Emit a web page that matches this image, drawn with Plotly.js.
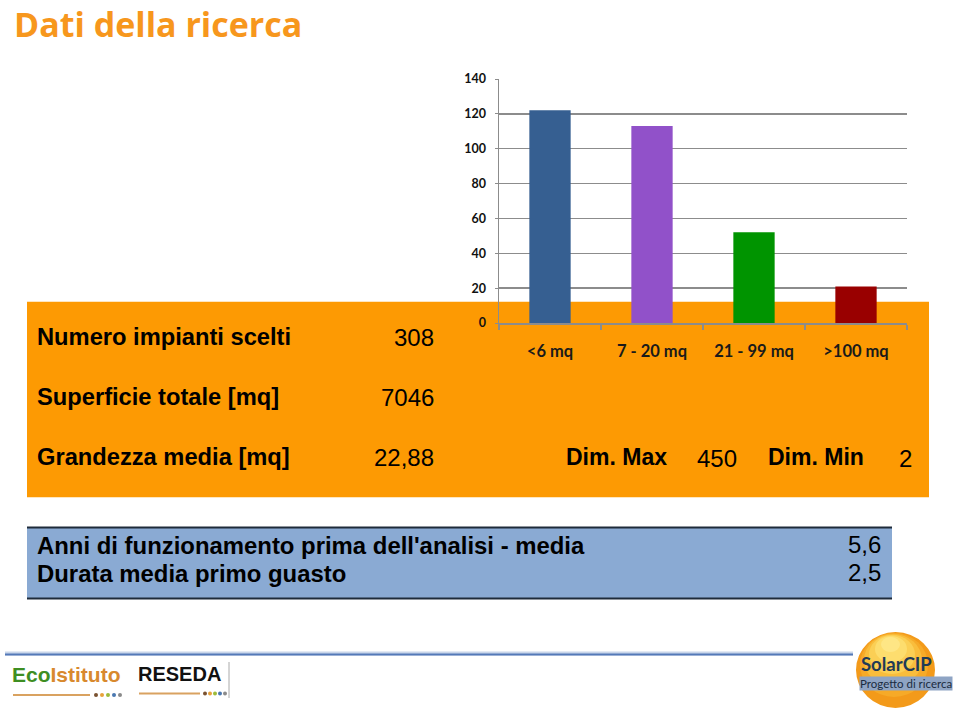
<!DOCTYPE html>
<html>
<head>
<meta charset="utf-8">
<script src="https://cdn.plot.ly/plotly-3.0.1.min.js"></script>
<style>html,body{margin:0;padding:0;background:#fff;}#chart{width:960px;height:708px;}</style>
</head>
<body>
<div id="chart"></div>
<script>
// ---- data ----
const categories = ['<6 mq', '7 - 20 mq', '21 - 99 mq', '>100 mq'];
const counts = [122, 113, 52, 21];
const yTickValues = [0, 20, 40, 60, 80, 100, 120, 140];
const summaryLabels = ['Numero impianti scelti', 'Superficie totale [mq]', 'Grandezza media [mq]'];
const summaryValues = ['308', '7046', '22,88'];
const dimLabels = ['Dim. Max', 'Dim. Min'];
const dimValues = ['450', '2'];
const durationLabels = ["Anni di funzionamento prima dell'analisi - media", 'Durata media primo guasto'];
const durationValues = ['5,6', '2,5'];
const chartTitle = 'Dati della ricerca';

// ---- styling ----
const barColors = ['#365F91', '#9151C9', '#009400', '#990000'];
const W = 960, H = 708, ML = 499, MR = 53, MT = 79, MB = 385;
const PW = W - ML - MR, PH = H - MT - MB;
const X = px => (px - ML) / PW;
const Y = py => (H - MB - py) / PH;
const ARIAL = 'Liberation Sans, Arial, sans-serif';
const CAL = 'Lato, Carlito, sans-serif';

const annotations = [];
function txt(text, x, y, anchor, size, opts) {
  opts = opts || {};
  annotations.push({
    text: text, x: X(x), y: Y(y), xref: 'paper', yref: 'paper',
    xanchor: anchor, yanchor: 'middle', showarrow: false, borderpad: 0,
    font: {family: opts.family || ARIAL, size: size, color: opts.color || '#000', weight: opts.weight || 'normal'},
    bgcolor: opts.bg || 'rgba(0,0,0,0)'
  });
}
// orange box texts
const rowY = [337, 397, 457];
summaryLabels.forEach((s, i) => txt('<b>' + s + '</b>', 36, rowY[i], 'left', 23.7));
summaryValues.forEach((s, i) => txt(s, 435, rowY[i], 'right', 24));
txt('<b>' + dimLabels[0] + '</b>', 565, 457, 'left', 23);
txt(dimValues[0], 696, 458, 'left', 24);
txt('<b>' + dimLabels[1] + '</b>', 767, 457, 'left', 23);
txt(dimValues[1], 898, 458, 'left', 24);
// blue table texts
const durY = [545, 573];
durationLabels.forEach((s, i) => txt('<b>' + s + '</b>', 36, durY[i], 'left', 23.9));
durationValues.forEach((s, i) => txt(s, 882, durY[i] - 1, 'right', 24));
// logos
txt('<span style="color:#3E8E22;font-weight:bold">Eco</span><span style="color:#D8892E;font-weight:bold">Istituto</span>', 11, 674, 'left', 21, {family: ARIAL, weight: 'bold'});
txt('RESEDA', 137, 674, 'left', 20, {color: '#111', weight: 'bold'});
txt('SolarCIP', 896, 664, 'center', 18.5, {family: CAL, color: '#1F3B57', weight: 'bold'});
txt('Progetto di ricerca', 906, 683, 'center', 11.5, {family: CAL, color: '#1A2B40', bg: '#8EA4C4'});

const shapes = [];
function rect(x0, y0, x1, y1, fill) {
  shapes.push({type: 'rect', xref: 'paper', yref: 'paper', x0: X(x0), x1: X(x1), y0: Y(y1), y1: Y(y0),
    fillcolor: fill, line: {width: 0}, layer: 'below'});
}
function line(x0, y0, x1, y1, color, w) {
  shapes.push({type: 'line', xref: 'paper', yref: 'paper', x0: X(x0), x1: X(x1), y0: Y(y0), y1: Y(y1),
    line: {color: color, width: w}, layer: 'below'});
}
function circ(x0, y0, x1, y1, fill) {
  shapes.push({type: 'circle', xref: 'paper', yref: 'paper', x0: X(x0), x1: X(x1), y0: Y(y1), y1: Y(y0),
    fillcolor: fill, line: {width: 0}, layer: 'below'});
}
rect(27, 301.7, 929, 497.3, '#FD9A03');
rect(27, 527, 892, 599, '#8AAAD3');
line(27, 527.5, 892, 527.5, '#1E2B3A', 2);
line(27, 598.5, 892, 598.5, '#1E2B3A', 2);
// footer line
line(5, 653.5, 853, 653.5, '#C9D6EA', 4);
line(5, 654.5, 853, 654.5, '#5479B8', 2);
// EcoIstituto underline & dots
line(13, 695, 90, 695, '#D9A260', 2);
['#7A5230', '#E8A23A', '#9DBB3A', '#4A78B0', '#8A8A8A'].forEach((c, i) => circ(94 + i * 6, 693, 98 + i * 6, 697, c));
// RESEDA underline & dots
line(139, 693.5, 200, 693.5, '#D9A260', 2);
['#7A5230', '#E8A23A', '#9DBB3A', '#4A78B0', '#8A8A8A'].forEach((c, i) => circ(203 + i * 5, 691.5, 207 + i * 5, 695.5, c));
line(229, 662, 229, 698, '#AAAAAA', 1);
// SolarCIP sun
circ(856, 632, 935, 708, '#F39A1A');
circ(860, 633, 928, 697, '#F6AA28');
circ(864, 634, 922, 686, '#F9BD3C');
circ(869, 635, 915, 674, '#FBCF55');
circ(875, 636, 907, 662, '#FDDD6E');
circ(881, 637, 900, 652, '#FEE685');

const trace = {
  type: 'bar', x: categories, y: counts,
  marker: {color: barColors, line: {width: 0}},
  hoverinfo: 'x+y'
};

const layout = {
  width: W, height: H,
  margin: {l: ML, r: MR, t: MT, b: MB, pad: 0},
  paper_bgcolor: '#FFFFFF', plot_bgcolor: 'rgba(0,0,0,0)',
  showlegend: false,
  bargap: 0.595,
  title: {
    text: '<b>' + chartTitle + '</b>', xref: 'container', yref: 'container',
    x: 14 / W, xanchor: 'left', y: 1 - 25.5 / H, yanchor: 'middle',
    font: {family: 'Open Sans, sans-serif', size: 34, color: '#F7971D'}
  },
  xaxis: {
    type: 'category', showgrid: false, zeroline: false,
    showline: true, linecolor: '#8C8C8C', linewidth: 1.5,
    ticks: 'outside', tickson: 'boundaries', ticklen: 5, tickcolor: '#8C8C8C', tickwidth: 1.5,
    tickfont: {family: CAL, size: 16.5, color: '#1A1A1A', weight: 'bold'},
    ticklabelstandoff: 13
  },
  yaxis: {
    range: [0, 140], tickvals: yTickValues, ticktext: yTickValues.map(String),
    showgrid: true, gridcolor: '#8C8C8C', gridwidth: 1.5, zeroline: false,
    showline: true, linecolor: '#8C8C8C', linewidth: 1.5,
    ticks: 'outside', ticklen: 3, tickcolor: '#8C8C8C',
    tickfont: {family: CAL, size: 12.5, color: '#111', weight: 'bold'},
    ticklabelstandoff: 6
  },
  annotations: annotations,
  shapes: shapes
};

Plotly.newPlot('chart', [trace], layout, {displayModeBar: false, staticPlot: true});
</script>
</body>
</html>
